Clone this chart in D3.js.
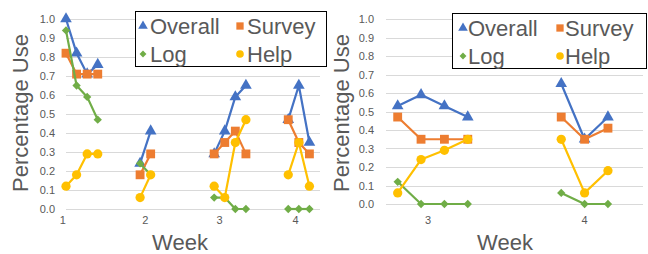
<!DOCTYPE html>
<html>
<head>
<meta charset="utf-8">
<script src="https://cdn.jsdelivr.net/npm/d3@7"></script>
<style>
  body { margin: 0; background: #fff; }
  svg { display: block; }
  text { font-family: "Liberation Sans", Arial, sans-serif; }
</style>
</head>
<body>
<div id="chart"></div>
<script>
// series names, colours and marker shapes
const seriesNames = ["Overall", "Survey", "Log", "Help"];
const seriesColors = ["#4472C4", "#ED7D31", "#70AD47", "#FFC000"];
const yTicks = [0, 0.1, 0.2, 0.3, 0.4, 0.5, 0.6, 0.7, 0.8, 0.9, 1.0];

// left chart: category slot of each point and its week
const leftSlot = [0, 1, 2, 3, 7, 8, 14, 15, 16, 17, 21, 22, 23];
const leftWeek = [1, 1, 1, 1, 2, 2, 3, 3, 3, 3, 4, 4, 4];
const leftOverall = [1.0, 0.82, 0.71, 0.76, 0.24, 0.41, 0.29, 0.41, 0.59, 0.65, 0.47, 0.65, 0.35];
const leftSurvey = [0.82, 0.71, 0.71, 0.71, 0.18, 0.29, 0.29, 0.35, 0.41, 0.29, 0.47, 0.35, 0.29];
const leftLog = [0.94, 0.65, 0.59, 0.47, 0.24, 0.18, 0.06, 0.06, 0, 0, 0, 0, 0];
const leftHelp = [0.12, 0.18, 0.29, 0.29, 0.06, 0.18, 0.12, 0.06, 0.35, 0.47, 0.18, 0.35, 0.12];
const leftTickLabels = ["1", "2", "3", "4"];
const leftTickSlots = [-0.3, 7.5, 14.5, 21.7];

// right chart
const rightSlot = [0, 1, 2, 3, 7, 8, 9];
const rightWeek = [3, 3, 3, 3, 4, 4, 4];
const rightOverall = [0.53, 0.59, 0.53, 0.47, 0.65, 0.35, 0.47];
const rightSurvey = [0.47, 0.35, 0.35, 0.35, 0.47, 0.35, 0.41];
const rightLog = [0.12, 0, 0, 0, 0.06, 0, 0];
const rightHelp = [0.06, 0.24, 0.29, 0.35, 0.35, 0.06, 0.18];
const rightTickLabels = ["3", "4"];
const rightTickSlots = [1.3, 8];

const W = 648, H = 254;
const svg = d3.select("#chart").append("svg").attr("width", W).attr("height", H);

function marker(i, size) {
  // Excel style: triangle, square, diamond, circle
  const types = [d3.symbolTriangle, d3.symbolSquare, d3.symbolSquare, d3.symbolCircle];
  const sizes = [1.05, 1.4, 0.62, 1.2];
  return d3.symbol().type(types[i]).size(size * sizes[i])();
}

function drawChart(cfg) {
  const g = svg.append("g");
  const x = d3.scaleLinear().domain(cfg.xDomain).range(cfg.xRange);
  const y = d3.scaleLinear().domain([0, 1]).range(cfg.yRange);

  // gridlines
  g.selectAll(".grid").data(yTicks).enter().append("line")
    .attr("x1", cfg.xRange[0]).attr("x2", cfg.xRange[1])
    .attr("y1", d => Math.round(y(d)) + 0.5).attr("y2", d => Math.round(y(d)) + 0.5)
    .attr("stroke", "#D9D9D9").attr("stroke-width", 1);

  // y tick labels
  g.selectAll(".ylab").data(yTicks).enter().append("text")
    .attr("x", cfg.yLabelX).attr("y", d => y(d) + 4)
    .attr("text-anchor", "end").attr("font-size", 11).attr("fill", "#595959")
    .text(d => d.toFixed(1));

  // x tick labels
  g.selectAll(".xlab").data(cfg.tickLabels).enter().append("text")
    .attr("x", (d, i) => x(cfg.tickSlots[i])).attr("y", 224)
    .attr("text-anchor", "middle").attr("font-size", 11).attr("fill", "#595959")
    .text(d => d);

  // axis titles
  g.append("text")
    .attr("transform", `translate(${cfg.yTitleX},113) rotate(-90)`)
    .attr("text-anchor", "middle").attr("font-size", 22).attr("fill", "#595959")
    .text("Percentage Use");
  g.append("text")
    .attr("x", cfg.xTitleX).attr("y", 250)
    .attr("text-anchor", "middle").attr("font-size", 22).attr("fill", "#595959")
    .text("Week");

  const line = d3.line().x(d => x(d.slot)).y(d => y(d.v));

  cfg.series.forEach((vals, si) => {
    const pts = vals.map((v, k) => ({ slot: cfg.slots[k], week: cfg.weeks[k], v: v }));
    const groups = d3.groups(pts, d => d.week);
    groups.forEach(([wk, arr]) => {
      g.append("path").attr("d", line(arr))
        .attr("fill", "none").attr("stroke", seriesColors[si]).attr("stroke-width", 2.2)
        .attr("stroke-linejoin", "round");
    });
    g.selectAll(".m" + si).data(pts).enter().append("path")
      .attr("d", marker(si, 56))
      .attr("transform", d => `translate(${x(d.slot)},${y(d.v)})` + (si === 2 ? " rotate(45)" : ""))
      .attr("fill", seriesColors[si]);
  });

  // legend
  const lg = g.append("g");
  const b = cfg.legend;
  lg.append("rect").attr("x", b.x + 0.5).attr("y", b.y + 0.5).attr("width", b.w).attr("height", b.h)
    .attr("fill", "#fff").attr("stroke", "#000").attr("stroke-width", 1);
  seriesNames.forEach((name, i) => {
    const col = i % 2, row = Math.floor(i / 2);
    const mx = b.x + b.mx[col], my = b.y + 15 + row * 28;
    lg.append("path").attr("d", marker(i, 38))
      .attr("transform", `translate(${mx},${my})` + (i === 2 ? " rotate(45)" : ""))
      .attr("fill", seriesColors[i]);
    lg.append("text").attr("x", mx + b.gap).attr("y", my + 8)
      .attr("font-size", 22).attr("fill", "#595959").text(name);
  });
}

drawChart({
  xDomain: [0, 24], xRange: [66, 320], yRange: [209, 19],
  slots: leftSlot, weeks: leftWeek,
  series: [leftOverall, leftSurvey, leftLog, leftHelp],
  tickLabels: leftTickLabels, tickSlots: leftTickSlots,
  yLabelX: 55, yTitleX: 28, xTitleX: 180,
  legend: { x: 135, y: 11, w: 191, h: 55, mx: [8, 105], gap: 7 }
});

drawChart({
  xDomain: [-0.5, 10.5], xRange: [386, 643], yRange: [204, 19],
  slots: rightSlot, weeks: rightWeek,
  series: [rightOverall, rightSurvey, rightLog, rightHelp],
  tickLabels: rightTickLabels, tickSlots: rightTickSlots,
  yLabelX: 374, yTitleX: 349, xTitleX: 505,
  legend: { x: 452, y: 13, w: 194, h: 55, mx: [11, 108], gap: 5 }
});
</script>
</body>
</html>
